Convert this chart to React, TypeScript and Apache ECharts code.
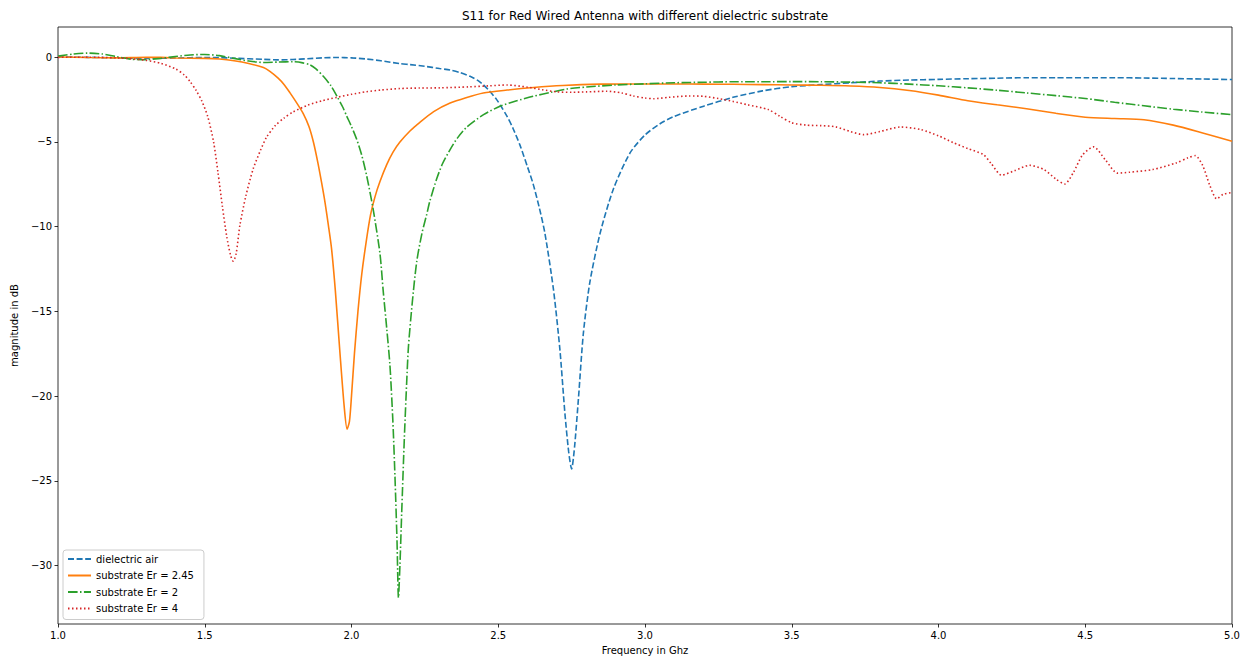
import React, { useEffect, useRef } from "react";
import * as echarts from "echarts";

const TITLE = "S11 for Red Wired Antenna with different dielectric substrate";
const X_NAME = "Frequency in Ghz";
const Y_NAME = "magnitude in dB";
const SERIES_NAMES = ["dielectric air", "substrate Er = 2.45", "substrate Er = 2", "substrate Er = 4"];
const X_TICKS = [1.0, 1.5, 2.0, 2.5, 3.0, 3.5, 4.0, 4.5, 5.0];
const Y_TICKS = [0, -5, -10, -15, -20, -25, -30];

const airData: number[][] = [
  [1.0, 0.0], [1.1, -0.02], [1.2, -0.05], [1.3, -0.08], [1.4, -0.06], [1.5, -0.03], [1.55, -0.04],
  [1.6, -0.07], [1.7, -0.14], [1.75, -0.17], [1.8, -0.15], [1.85, -0.1], [1.9, -0.05], [1.95, -0.03],
  [2.0, -0.05], [2.05, -0.12], [2.1, -0.22], [2.165, -0.39], [2.2, -0.45], [2.25, -0.55], [2.3, -0.68],
  [2.336, -0.77], [2.37, -0.92], [2.404, -1.14], [2.43, -1.38], [2.449, -1.63], [2.47, -2.0],
  [2.494, -2.5], [2.51, -2.92], [2.53, -3.5], [2.55, -4.2], [2.574, -5.2], [2.6, -6.5],
  [2.619, -7.5], [2.64, -8.9], [2.659, -10.4], [2.688, -13.7], [2.71, -17.25], [2.727, -21.0],
  [2.74, -23.3], [2.75, -24.3], [2.76, -23.0], [2.773, -20.2], [2.79, -16.3], [2.812, -13.3],
  [2.847, -10.4], [2.892, -7.8], [2.949, -5.66], [3.0, -4.6], [3.05, -3.95], [3.1, -3.5], [3.2, -2.9],
  [3.3, -2.38], [3.4, -2.0], [3.5, -1.75], [3.6, -1.63], [3.7, -1.52], [3.8, -1.42], [3.9, -1.36],
  [4.0, -1.32], [4.1, -1.28], [4.2, -1.25], [4.3, -1.22], [4.4, -1.22], [4.5, -1.22], [4.6, -1.22],
  [4.7, -1.24], [4.8, -1.27], [4.9, -1.3], [5.0, -1.33],
];

const er245Data: number[][] = [
  [1.0, 0.0], [1.1, -0.03], [1.2, -0.05], [1.3, -0.02], [1.35, -0.02], [1.4, -0.06], [1.5, -0.08],
  [1.55, -0.12], [1.6, -0.22], [1.65, -0.38], [1.7, -0.62], [1.722, -0.85], [1.75, -1.25],
  [1.77, -1.62], [1.79, -2.1], [1.81, -2.62], [1.836, -3.35], [1.855, -4.1], [1.87, -5.0],
  [1.885, -6.2], [1.898, -7.4], [1.91, -8.6], [1.921, -9.9], [1.932, -11.3], [1.945, -13.8],
  [1.96, -17.3], [1.975, -20.6], [1.985, -21.95], [1.993, -21.5], [2.0, -20.0], [2.01, -17.5],
  [2.022, -15.0], [2.035, -12.8], [2.05, -10.9], [2.065, -9.3], [2.08, -8.25], [2.097, -7.35],
  [2.12, -6.35], [2.142, -5.6], [2.165, -5.02], [2.2, -4.35], [2.233, -3.85], [2.28, -3.22],
  [2.336, -2.72], [2.39, -2.4], [2.449, -2.12], [2.53, -1.95], [2.62, -1.8], [2.72, -1.68],
  [2.847, -1.6], [2.95, -1.59], [3.1, -1.59], [3.2, -1.6], [3.3, -1.61], [3.4, -1.63], [3.5, -1.65],
  [3.6, -1.67], [3.7, -1.71], [3.8, -1.8], [3.9, -1.98], [4.0, -2.25], [4.1, -2.58], [4.2, -2.82],
  [4.3, -3.05], [4.4, -3.32], [4.5, -3.55], [4.6, -3.63], [4.7, -3.7], [4.8, -4.02], [4.9, -4.48],
  [5.0, -4.97],
];

const er2Data: number[][] = [
  [1.0, 0.05], [1.05, 0.17], [1.1, 0.23], [1.15, 0.18], [1.2, 0.02], [1.25, -0.13], [1.3, -0.16],
  [1.35, -0.08], [1.4, 0.03], [1.45, 0.12], [1.5, 0.15], [1.55, 0.08], [1.6, -0.08], [1.65, -0.24],
  [1.7, -0.32], [1.75, -0.3], [1.8, -0.28], [1.83, -0.33], [1.859, -0.47], [1.88, -0.72],
  [1.904, -1.14], [1.93, -1.7], [1.95, -2.3], [1.97, -2.95], [1.984, -3.5], [2.0, -4.1],
  [2.018, -4.87], [2.035, -5.8], [2.052, -7.03], [2.074, -9.0], [2.097, -11.6], [2.108, -13.8],
  [2.12, -16.0], [2.131, -18.2], [2.141, -21.5], [2.148, -24.7], [2.155, -28.5], [2.16, -31.9],
  [2.165, -30.0], [2.171, -26.9], [2.18, -22.5], [2.188, -19.2], [2.194, -17.1], [2.207, -14.5],
  [2.222, -12.1], [2.24, -10.4], [2.256, -9.3], [2.267, -8.5], [2.29, -7.2], [2.31, -6.3],
  [2.336, -5.46], [2.36, -4.8], [2.392, -4.15], [2.45, -3.4], [2.506, -2.91], [2.56, -2.6],
  [2.619, -2.32], [2.68, -2.08], [2.733, -1.89], [2.8, -1.77], [2.9, -1.65], [3.0, -1.58],
  [3.1, -1.52], [3.2, -1.49], [3.3, -1.46], [3.4, -1.46], [3.5, -1.45], [3.6, -1.46], [3.7, -1.48],
  [3.8, -1.52], [3.9, -1.6], [4.0, -1.7], [4.1, -1.82], [4.2, -1.96], [4.3, -2.12], [4.4, -2.28],
  [4.5, -2.45], [4.6, -2.67], [4.7, -2.88], [4.8, -3.08], [4.9, -3.25], [5.0, -3.4],
];

const er4Data: number[][] = [
  [1.0, -0.02], [1.1, -0.01], [1.2, -0.05], [1.25, -0.1], [1.3, -0.2], [1.35, -0.37], [1.4, -0.7],
  [1.43, -1.05], [1.45, -1.45], [1.47, -1.95], [1.49, -2.6], [1.51, -3.5], [1.53, -5.0], [1.545, -6.8],
  [1.56, -8.8], [1.575, -10.6], [1.588, -11.7], [1.597, -12.05], [1.607, -11.6], [1.62, -9.9],
  [1.64, -8.2], [1.665, -6.6], [1.69, -5.5], [1.71, -4.75], [1.74, -4.05], [1.77, -3.6], [1.8, -3.25],
  [1.85, -2.85], [1.9, -2.58], [1.95, -2.38], [2.0, -2.2], [2.05, -2.05], [2.1, -1.95], [2.165, -1.86],
  [2.233, -1.83], [2.3, -1.82], [2.4, -1.76], [2.47, -1.7], [2.53, -1.65], [2.6, -1.78], [2.65, -1.93],
  [2.7, -2.06], [2.75, -2.08], [2.8, -2.06], [2.87, -2.02], [2.92, -2.12], [2.96, -2.3], [3.0, -2.42],
  [3.03, -2.46], [3.08, -2.38], [3.15, -2.3], [3.2, -2.32], [3.25, -2.45], [3.3, -2.62], [3.35, -2.82],
  [3.42, -3.1], [3.46, -3.5], [3.5, -3.88], [3.55, -4.02], [3.6, -4.05], [3.65, -4.12], [3.7, -4.4],
  [3.745, -4.58], [3.8, -4.4], [3.87, -4.13], [3.94, -4.28], [4.0, -4.65], [4.05, -5.05], [4.1, -5.4],
  [4.153, -5.76], [4.18, -6.3], [4.215, -6.97], [4.26, -6.7], [4.31, -6.39], [4.36, -6.65], [4.4, -7.2],
  [4.43, -7.49], [4.46, -6.8], [4.49, -5.8], [4.528, -5.3], [4.57, -6.1], [4.61, -6.85], [4.65, -6.8],
  [4.73, -6.64], [4.81, -6.25], [4.85, -5.95], [4.875, -5.82], [4.9, -6.4], [4.925, -7.6],
  [4.948, -8.37], [4.97, -8.1], [5.0, -8.0],
];

const FONT = "DejaVu Sans";

export default function App() {
  const ref = useRef<HTMLDivElement>(null);
  useEffect(() => {
    if (!ref.current) return;
    const chart = echarts.init(ref.current, undefined, { renderer: "svg" });
    const fmtY = (v: number) => (v < 0 ? "\u2212" + Math.abs(v) : String(v));
    const mk = (name: string, data: number[][], color: string, type: any) => ({
      name,
      type: "line",
      data,
      showSymbol: false,
      symbol: "none",
      smooth: 0.25,
      lineStyle: { color, width: 1.6, type, cap: "butt" },
      itemStyle: { color },
    });
    chart.setOption({
      animation: false,
      textStyle: { fontFamily: FONT, color: "#000" },
      title: {
        text: TITLE,
        left: 645,
        top: 10,
        textAlign: "center",
        padding: 0,
        textStyle: { fontFamily: FONT, fontSize: 12, fontWeight: "normal", color: "#000" },
      },
      grid: {
        left: 58,
        right: 17,
        top: 27,
        bottom: 35,
        show: true,
        borderColor: "#000",
        borderWidth: 0.8,
        backgroundColor: "transparent",
      },
      legend: {
        orient: "vertical",
        left: 63,
        top: 550,
        itemWidth: 23,
        itemHeight: 10,
        itemGap: 6.5,
        padding: [4, 10, 6, 4],
        backgroundColor: "rgba(255,255,255,0.8)",
        borderColor: "#cccccc",
        borderWidth: 1,
        borderRadius: 3,
        itemStyle: { opacity: 0, borderWidth: 0 },
        textStyle: { fontFamily: FONT, fontSize: 10, color: "#000" },
        data: SERIES_NAMES,
      },
      xAxis: {
        type: "value",
        min: 1,
        max: 5,
        interval: 0.5,
        name: X_NAME,
        nameLocation: "middle",
        nameGap: 21,
        nameTextStyle: { fontFamily: FONT, fontSize: 10, color: "#000" },
        axisLine: { show: false, onZero: false },
        axisTick: { show: true, length: 3.5, lineStyle: { color: "#000", width: 0.8 }, customValues: X_TICKS },
        axisLabel: {
          fontFamily: FONT, fontSize: 10, color: "#000", margin: 6,
          customValues: X_TICKS,
          formatter: (v: number) => v.toFixed(1),
        },
        splitLine: { show: false },
      },
      yAxis: {
        type: "value",
        min: -33.45,
        max: 1.77,
        name: Y_NAME,
        nameLocation: "middle",
        nameGap: 38,
        nameTextStyle: { fontFamily: FONT, fontSize: 10, color: "#000" },
        axisLine: { show: false, onZero: false },
        axisTick: { show: true, length: 3.5, lineStyle: { color: "#000", width: 0.8 }, customValues: Y_TICKS },
        axisLabel: {
          fontFamily: FONT, fontSize: 10, color: "#000", margin: 6,
          customValues: Y_TICKS,
          formatter: fmtY,
        },
        splitLine: { show: false },
      },
      series: [
        mk(SERIES_NAMES[0], airData, "#1f77b4", [6, 2.6]),
        mk(SERIES_NAMES[1], er245Data, "#ff7f0e", "solid"),
        mk(SERIES_NAMES[2], er2Data, "#2ca02c", [9.6, 2.4, 1.5, 2.4]),
        mk(SERIES_NAMES[3], er4Data, "#d62728", [1.5, 2.5]),
      ],
    });
    return () => chart.dispose();
  }, []);
  return (
    <div
      ref={ref}
      style={{ position: "absolute", left: 0, top: 0, width: 1249, height: 660, background: "#fff" }}
    />
  );
}
